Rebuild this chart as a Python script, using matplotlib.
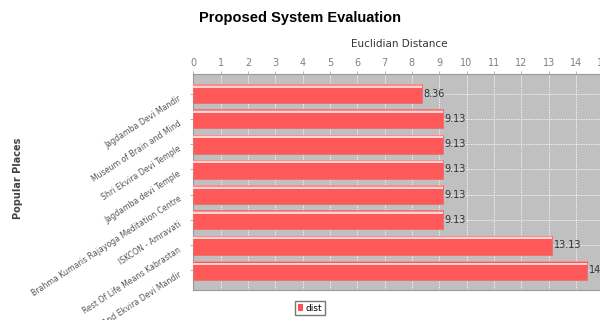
import numpy as np
import matplotlib
matplotlib.use('Agg')
import matplotlib.pyplot as plt
from matplotlib.patches import Patch

# data
places = ['Jagdamba Devi Mandir', 'Museum of Brain and Mind', 'Shri Ekvira Devi Temple',
          'Jagdamba devi Temple', 'Brahma Kumaris Rajayoga Meditation Centre',
          'ISKCON - Amravati', 'Rest Of Life Means Kabrastan', 'And Ekvira Devi Mandir']
dist = [8.36, 9.13, 9.13, 9.13, 9.13, 9.13, 13.13, 14.42]
value_labels = ['8.36', '9.13', '9.13', '9.13', '9.13', '9.13', '13.13', '14.42']
xticks = list(range(0, 16))

fig = plt.figure(figsize=(6, 3.2), dpi=100)
ax = fig.add_axes([0.322, 0.094, 0.688, 0.675])
ax.set_facecolor('#c0c0c0')

y = np.arange(len(places))
h = 0.75
ax.barh(y, dist, height=h, color='#ff5858', edgecolor='#e87070', linewidth=0.6, zorder=3)
# light highlight stripe near top of each bar (gradient painter look)
ax.barh(y - h / 2 + 0.10, dist, height=0.08, color='#ffd4d4', linewidth=0, zorder=4)
ax.barh(y - h / 2 + 0.03, dist, height=0.05, color='#ff8c8c', linewidth=0, zorder=4)

for yi, v, lab in zip(y, dist, value_labels):
    ax.text(v + 0.05, yi, lab, va='center', ha='left', fontsize=7, color='#333333', zorder=5)

ax.set_xlim(0, 15.1)
ax.set_ylim(7.77, -0.78)
ax.xaxis.tick_top()
ax.xaxis.set_label_position('top')
ax.set_xticks(xticks)
ax.set_xticklabels([str(t) for t in xticks], fontsize=7, color='#808080')
ax.set_xlabel('Euclidian Distance', fontsize=7.5, color='#333333', labelpad=8)
ax.tick_params(axis='x', length=2, width=0.6, color='#aaaaaa', pad=2)

ax.set_yticks(y)
ax.set_yticklabels(places, fontsize=5.6, color='#555555', rotation=33,
                   ha='right', va='top', rotation_mode='anchor')
ax.tick_params(axis='y', length=2, width=0.6, color='#aaaaaa', pad=9)

ax.grid(True, which='major', axis='both', color='white', linestyle=(0, (1.5, 1.5)),
        linewidth=0.6, zorder=1)
ax.set_axisbelow(True)
for s in ax.spines.values():
    s.set_color('#999999')
    s.set_linewidth(0.8)

fig.text(0.5, 0.945, 'Proposed System Evaluation', ha='center', va='center',
         fontsize=10.5, fontweight='bold', family=['Liberation Sans', 'DejaVu Sans'])
fig.text(0.03, 0.444, 'Popular Places', rotation=90, ha='center', va='center',
         fontsize=7, fontweight='bold', color='#444444')

fig.legend(handles=[Patch(facecolor='#ff5050', edgecolor='none', label='dist')],
           loc='center', bbox_to_anchor=(0.517, 0.037), fontsize=6.5,
           handlelength=0.6, handleheight=0.8, handletextpad=0.3, borderpad=0.3,
           fancybox=False, edgecolor='#777777', framealpha=1)

fig.savefig('out.png', dpi=100)
